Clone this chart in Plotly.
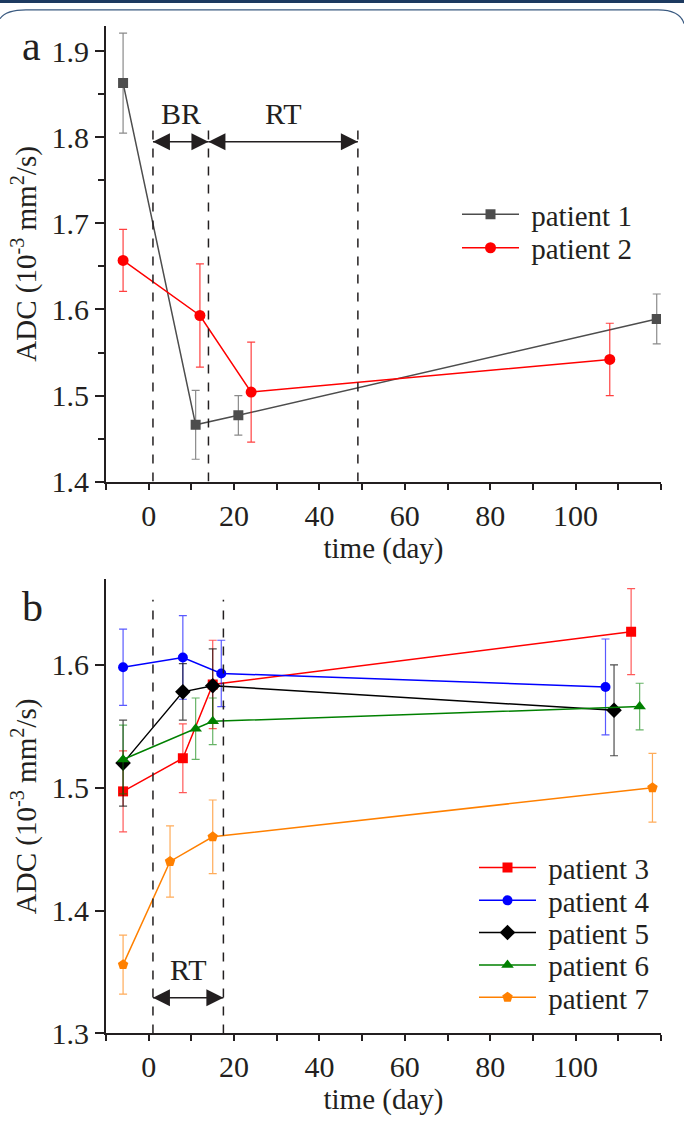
import plotly.graph_objects as go

# ---------------- data ----------------
# panel a
t_p1 = [-6, 11, 21, 119]
adc_p1 = [1.863, 1.466, 1.477, 1.589]
err_p1 = [0.058, 0.040, 0.023, 0.029]

t_p2 = [-6, 12, 24, 108]
adc_p2 = [1.657, 1.593, 1.504, 1.542]
err_p2 = [0.036, 0.060, 0.058, 0.042]

# panel b
t_p3 = [-6, 8, 15, 113]
adc_p3 = [1.497, 1.524, 1.584, 1.627]
err_p3 = [0.033, 0.028, 0.036, 0.035]

t_p4 = [-6, 8, 17, 107]
adc_p4 = [1.598, 1.606, 1.593, 1.582]
err_p4 = [0.031, 0.034, 0.027, 0.039]

t_p5 = [-6, 8, 15, 109]
adc_p5 = [1.520, 1.578, 1.583, 1.563]
err_p5 = [0.035, 0.023, 0.030, 0.037]

t_p6 = [-6, 11, 15, 115]
adc_p6 = [1.523, 1.548, 1.554, 1.566]
err_p6 = [0.028, 0.025, 0.019, 0.019]

t_p7 = [-6, 5, 15, 118]
adc_p7 = [1.356, 1.440, 1.460, 1.500]
err_p7 = [0.024, 0.029, 0.030, 0.028]

# phase markers (days)
br_start_a, br_end_a, rt_end_a = 1, 14, 49
rt_start_b, rt_end_b = 1, 17.5

x_tickvals = [0, 20, 40, 60, 80, 100]
x_ticktext = ["0", "20", "40", "60", "80", "100"]
ya_tickvals = [1.4, 1.5, 1.6, 1.7, 1.8, 1.9]
ya_ticktext = ["1.4", "1.5", "1.6", "1.7", "1.8", "1.9"]
yb_tickvals = [1.3, 1.4, 1.5, 1.6]
yb_ticktext = ["1.3", "1.4", "1.5", "1.6"]

FONT = "Liberation Serif, Times New Roman, serif"
INK = "#231f20"
W, H = 684, 1126


def px(xp):
    return xp / W


def py(yp):
    return 1 - yp / H


fig = go.Figure()


def add_series(x, y, e, name, color, ecolor, symbol, size, xa, ya, legend, lw=1.5):
    fig.add_trace(go.Scatter(
        x=x, y=y, name="\u00a0" + name, mode="lines+markers",
        line=dict(color=color, width=lw),
        marker=dict(symbol=symbol, size=size, color=color, line=dict(width=0)),
        error_y=dict(type="data", array=e, visible=True, color=ecolor, thickness=1.2, width=4),
        xaxis=xa, yaxis=ya, legend=legend,
    ))


add_series(t_p1, adc_p1, err_p1, "patient 1", "#4d4d4d", "#8a8a8a", "square", 10, "x", "y", "legend")
add_series(t_p2, adc_p2, err_p2, "patient 2", "#ff0000", "rgba(255,0,0,0.75)", "circle", 11, "x", "y", "legend2")

add_series(t_p3, adc_p3, err_p3, "patient 3", "#ff0000", "rgba(255,0,0,0.65)", "square", 10, "x2", "y2", "legend3")
add_series(t_p4, adc_p4, err_p4, "patient 4", "#0000ff", "rgba(0,0,255,0.65)", "circle", 10, "x2", "y2", "legend4")
add_series(t_p5, adc_p5, err_p5, "patient 5", "#000000", "rgba(0,0,0,0.7)", "diamond", 12, "x2", "y2", "legend5")
add_series(t_p6, adc_p6, err_p6, "patient 6", "#008000", "rgba(0,128,0,0.6)", "triangle-up", 11, "x2", "y2", "legend6")
add_series(t_p7, adc_p7, err_p7, "patient 7", "#ff8000", "rgba(255,128,0,0.65)", "pentagon", 11, "x2", "y2", "legend7")


# double-headed phase arrows (tips sit on the dashed phase lines)
def double_arrow(x0, x1, y, xa, ya):
    fig.add_trace(go.Scatter(
        x=[x0, x1], y=[y, y], mode="lines+markers", showlegend=False, hoverinfo="skip",
        line=dict(color=INK, width=1.5),
        marker=dict(symbol=["arrow-left", "arrow-right"], size=17, color=INK, line=dict(width=0)),
        xaxis=xa, yaxis=ya,
    ))


double_arrow(br_start_a, br_end_a, 1.795, "x", "y")
double_arrow(br_end_a, rt_end_a, 1.795, "x", "y")
double_arrow(rt_start_b, rt_end_b, 1.329, "x2", "y2")

tickfont = dict(family=FONT, size=30, color=INK)
titlefont = dict(family=FONT, size=29, color=INK)
axis_common = dict(
    showline=True, linecolor=INK, linewidth=2, mirror=False, showgrid=False, zeroline=False,
    ticks="outside", tickcolor=INK, tickwidth=1.5, tickfont=tickfont,
)

xa_common = dict(axis_common, range=[-10, 120], tickmode="array", tickvals=x_tickvals,
                 ticktext=x_ticktext, ticklen=6, domain=[px(106), px(661)],
                 minor=dict(dtick=10, tick0=-10, ticklen=6, ticks="outside", tickcolor=INK, tickwidth=1.5),
                 title=dict(text="time (day)", font=titlefont, standoff=2))

ytitle = "ADC (10<sup>-3</sup> mm<sup>2</sup>/s)"

legend_common = dict(xanchor="left", yanchor="middle", bgcolor="rgba(0,0,0,0)",
                     font=dict(family=FONT, size=29, color=INK), itemwidth=57)

fig.update_layout(
    width=W, height=H, margin=dict(l=0, r=0, t=0, b=0),
    paper_bgcolor="white", plot_bgcolor="white",
    xaxis=dict(xa_common, anchor="y"),
    xaxis2=dict(xa_common, anchor="y2"),
    yaxis=dict(axis_common, range=[1.4, 1.929], domain=[py(489), py(26.7)], anchor="x",
               tickmode="array", tickvals=ya_tickvals, ticktext=ya_ticktext, ticklen=9,
               minor=dict(dtick=0.05, tick0=1.4, ticklen=6, ticks="outside", tickcolor=INK, tickwidth=1.5),
               title=dict(text=ytitle, font=titlefont, standoff=6)),
    yaxis2=dict(axis_common, range=[1.3, 1.6695], domain=[py(1049.3), py(588.3)], anchor="x2",
                tickmode="array", tickvals=yb_tickvals, ticktext=yb_ticktext, ticklen=9,
                title=dict(text=ytitle, font=titlefont, standoff=6)),
    # unlabeled 0.05 / 0.025 ticks of panel b
    yaxis3=dict(overlaying="y2", anchor="x2", side="left", range=[1.3, 1.6695],
                showline=False, showgrid=False, zeroline=False, showticklabels=False,
                ticks="outside", tickcolor=INK, tickwidth=1.5, ticklen=9, tick0=1.3, dtick=0.05,
                minor=dict(dtick=0.025, tick0=1.3, ticklen=6, ticks="outside", tickcolor=INK, tickwidth=1.5)),
    legend=dict(legend_common, x=px(457), y=py(217.7)),
    legend2=dict(legend_common, x=px(457), y=py(251.7)),
    legend3=dict(legend_common, x=px(474), y=py(881)),
    legend4=dict(legend_common, x=px(474), y=py(914.3)),
    legend5=dict(legend_common, x=px(474), y=py(947)),
    legend6=dict(legend_common, x=px(474), y=py(980)),
    legend7=dict(legend_common, x=px(474), y=py(1012.7)),
    showlegend=True,
)

shapes = []
# dashed phase lines, panel a
for xv in [br_start_a, br_end_a, rt_end_a]:
    shapes.append(dict(type="line", xref="x", yref="y", x0=xv, x1=xv, y0=1.4, y1=1.814,
                       line=dict(color=INK, width=1.5, dash="dash")))
# dashed phase lines, panel b
for xv in [rt_start_b, rt_end_b]:
    shapes.append(dict(type="line", xref="x2", yref="y2", x0=xv, x1=xv, y0=1.3, y1=1.653,
                       line=dict(color=INK, width=1.5, dash="dash")))
# page frame
shapes.append(dict(type="rect", xref="paper", yref="paper", x0=0, x1=1, y0=py(3), y1=1,
                   fillcolor="#1d3a60", line=dict(width=0)))
shapes.append(dict(type="path", xref="paper", yref="paper",
                   path=f"M 0,{py(19)} Q {px(6)},{py(10)} {px(26)},{py(10)} L {px(658)},{py(10)} Q {px(680)},{py(10)} {px(684)},{py(24)}",
                   line=dict(color="#3a5a80", width=1.2)))
fig.update_layout(shapes=shapes)

annotations = []
lblfont = dict(family=FONT, size=30, color=INK)
annotations.append(dict(x=(br_start_a + br_end_a) / 2, y=1.828, xref="x", yref="y", text="BR",
                        showarrow=False, font=lblfont))
annotations.append(dict(x=(br_end_a + rt_end_a) / 2, y=1.828, xref="x", yref="y", text="RT",
                        showarrow=False, font=lblfont))
annotations.append(dict(x=(rt_start_b + rt_end_b) / 2, y=1.352, xref="x2", yref="y2", text="RT",
                        showarrow=False, font=lblfont))
annotations.append(dict(x=px(31), y=py(47), xref="paper", yref="paper", text="a",
                        xanchor="center", yanchor="middle",
                        showarrow=False, font=dict(family=FONT, size=42, color=INK)))
annotations.append(dict(x=px(32), y=py(616), xref="paper", yref="paper", text="b",
                        xanchor="center", yanchor="middle",
                        showarrow=False, font=dict(family=FONT, size=42, color=INK)))
fig.update_layout(annotations=annotations)

fig.write_html("out.html")
